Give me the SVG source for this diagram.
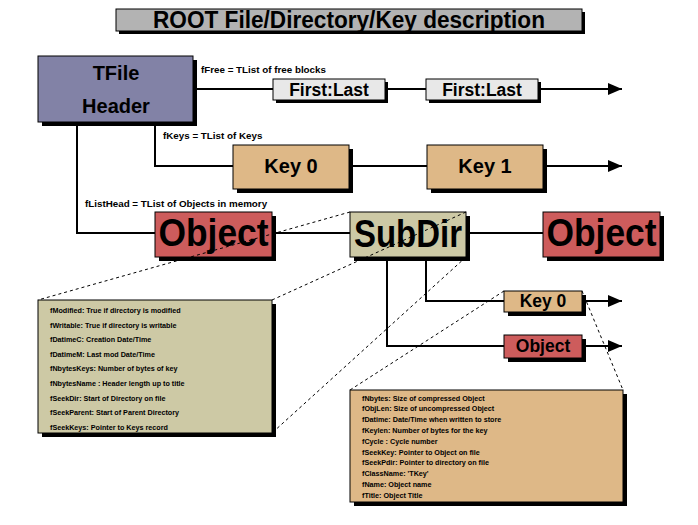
<svg xmlns="http://www.w3.org/2000/svg" width="698" height="525" viewBox="0 0 698 525">
<defs>
<style>
text{font-family:"Liberation Sans",Arial,sans-serif;font-weight:bold;fill:#000}
.box{stroke:#000;stroke-width:1}
.sh{fill:#000}
.ln{stroke:#000;stroke-width:2;fill:none}
.dash{stroke:#000;stroke-width:1;fill:none;stroke-dasharray:3,3}
.lbl{font-size:9.8px}
.det{font-size:7.2px}
.big{font-size:38px}
.mid{font-size:20px}
.sm{font-size:17.5px}
.key{fill:#deb887}
.obj{fill:#cd5c5c}
.dir{fill:#cdc9a5}
.fl{fill:#e8e8e8}
</style>
<marker id="arr" markerWidth="14" markerHeight="12" refX="14" refY="6" orient="auto" markerUnits="userSpaceOnUse">
<path d="M0,0 L14,6 L0,12 Z" fill="#000"/>
</marker>
</defs>
<rect width="698" height="525" fill="#fff"/>

<g id="title">
<rect class="sh" x="119" y="12" width="466" height="22"/>
<rect class="box" x="116" y="9" width="466" height="22" fill="#b3b3b3"/>
<text x="349" y="28" font-size="23" text-anchor="middle" textLength="392" lengthAdjust="spacingAndGlyphs">ROOT File/Directory/Key description</text>
</g>

<g id="connectors">
<polyline class="ln" points="193,89 273,89"/>
<polyline class="ln" points="385,89 426,89"/>
<polyline class="ln" points="538,89 622,89" marker-end="url(#arr)"/>
<polyline class="ln" points="155,122 155,166 233,166"/>
<polyline class="ln" points="349,166 427,166"/>
<polyline class="ln" points="543,166 622,166" marker-end="url(#arr)"/>
<polyline class="ln" points="77,122 77,233 155,233"/>
<polyline class="ln" points="272,233 350,233"/>
<polyline class="ln" points="466,233 543,233"/>
<polyline class="ln" points="426,257 426,301 504,301"/>
<polyline class="ln" points="387,257 387,346 504,346"/>
<polyline class="ln" points="582,301 622,301" marker-end="url(#arr)"/>
<polyline class="ln" points="582,346 622,346" marker-end="url(#arr)"/>
<text class="lbl" x="201" y="73">fFree = TList of free blocks</text>
<text class="lbl" x="163" y="139">fKeys = TList of Keys</text>
<text class="lbl" x="85" y="207">fListHead = TList of Objects in memory</text>
</g>

<g id="tfile">
<rect class="sh" x="42" y="60" width="155" height="66"/>
<rect class="box" x="38" y="56" width="155" height="66" fill="#8282a6"/>
<text class="mid" x="116" y="80" text-anchor="middle">TFile</text>
<text class="mid" x="116" y="113" text-anchor="middle">Header</text>
</g>

<g id="free1">
<rect class="sh" x="276" y="82" width="112" height="21"/>
<rect class="box fl" x="273" y="79" width="112" height="21"/>
<text class="sm" x="329" y="96" text-anchor="middle">First:Last</text>
</g>
<g id="free2">
<rect class="sh" x="429" y="82" width="112" height="21"/>
<rect class="box fl" x="426" y="79" width="112" height="21"/>
<text class="sm" x="482" y="96" text-anchor="middle">First:Last</text>
</g>

<g id="key0">
<rect class="sh" x="237" y="149" width="116" height="44"/>
<rect class="box key" x="233" y="145" width="116" height="44"/>
<text class="mid" x="291" y="173" text-anchor="middle">Key 0</text>
</g>
<g id="key1">
<rect class="sh" x="431" y="149" width="116" height="44"/>
<rect class="box key" x="427" y="145" width="116" height="44"/>
<text class="mid" x="485" y="173" text-anchor="middle">Key 1</text>
</g>

<g id="object1">
<rect class="sh" x="159" y="216" width="117" height="45"/>
<rect class="box obj" x="155" y="212" width="117" height="45"/>
<text class="big" x="213.5" y="246" text-anchor="middle" textLength="110" lengthAdjust="spacingAndGlyphs">Object</text>
</g>
<g id="subdir">
<rect class="sh" x="354" y="216" width="116" height="45"/>
<rect class="box dir" x="350" y="212" width="116" height="45"/>
<text class="big" x="408" y="247" text-anchor="middle" textLength="108" lengthAdjust="spacingAndGlyphs">SubDir</text>
</g>
<g id="object2">
<rect class="sh" x="547" y="216" width="117" height="45"/>
<rect class="box obj" x="543" y="212" width="117" height="45"/>
<text class="big" x="601.5" y="246" text-anchor="middle" textLength="110" lengthAdjust="spacingAndGlyphs">Object</text>
</g>

<g id="subkey0">
<rect class="sh" x="508" y="295" width="78" height="21"/>
<rect class="box key" x="504" y="291" width="78" height="21"/>
<text class="sm" x="543" y="307" text-anchor="middle">Key 0</text>
</g>
<g id="subobject">
<rect class="sh" x="508" y="339" width="78" height="23"/>
<rect class="box obj" x="504" y="335" width="78" height="23"/>
<text class="sm" x="543" y="352" text-anchor="middle">Object</text>
</g>

<g id="zoomlines">
<line class="dash" x1="350" y1="212" x2="38" y2="300"/>
<line class="dash" x1="466" y1="212" x2="272" y2="300"/>
<line class="dash" x1="466" y1="257" x2="272" y2="433"/>
<line class="dash" x1="504" y1="291" x2="350" y2="390"/>
<line class="dash" x1="582" y1="291" x2="623" y2="390"/>
</g>

<g id="dirdetails">
<rect class="sh" x="42" y="304" width="234" height="133"/>
<rect class="box dir" x="38" y="300" width="234" height="133"/>
<text class="det" x="50" y="313">fModified: True if directory is modified</text>
<text class="det" x="50" y="327.6">fWritable: True if directory is writable</text>
<text class="det" x="50" y="342.2">fDatimeC: Creation Date/Time</text>
<text class="det" x="50" y="356.8">fDatimeM: Last mod Date/Time</text>
<text class="det" x="50" y="371.4">fNbytesKeys: Number of bytes of key</text>
<text class="det" x="50" y="386">fNbytesName : Header length up to title</text>
<text class="det" x="50" y="400.6">fSeekDir: Start of Directory on file</text>
<text class="det" x="50" y="415.2">fSeekParent: Start of Parent Directory</text>
<text class="det" x="50" y="429.8">fSeekKeys: Pointer to Keys record</text>
</g>

<g id="keydetails">
<rect class="sh" x="354" y="394" width="273" height="112"/>
<rect class="box key" x="350" y="390" width="273" height="112"/>
<text class="det" x="362" y="400.5">fNbytes: Size of compressed Object</text>
<text class="det" x="362" y="411.3">fObjLen: Size of uncompressed Object</text>
<text class="det" x="362" y="422.1">fDatime: Date/Time when written to store</text>
<text class="det" x="362" y="432.9">fKeylen: Number of bytes for the key</text>
<text class="det" x="362" y="443.7">fCycle : Cycle number</text>
<text class="det" x="362" y="454.5">fSeekKey: Pointer to Object on file</text>
<text class="det" x="362" y="465.3">fSeekPdir: Pointer to directory on file</text>
<text class="det" x="362" y="476.1">fClassName: 'TKey'</text>
<text class="det" x="362" y="486.9">fName: Object name</text>
<text class="det" x="362" y="497.7">fTitle: Object Title</text>
</g>
</svg>
